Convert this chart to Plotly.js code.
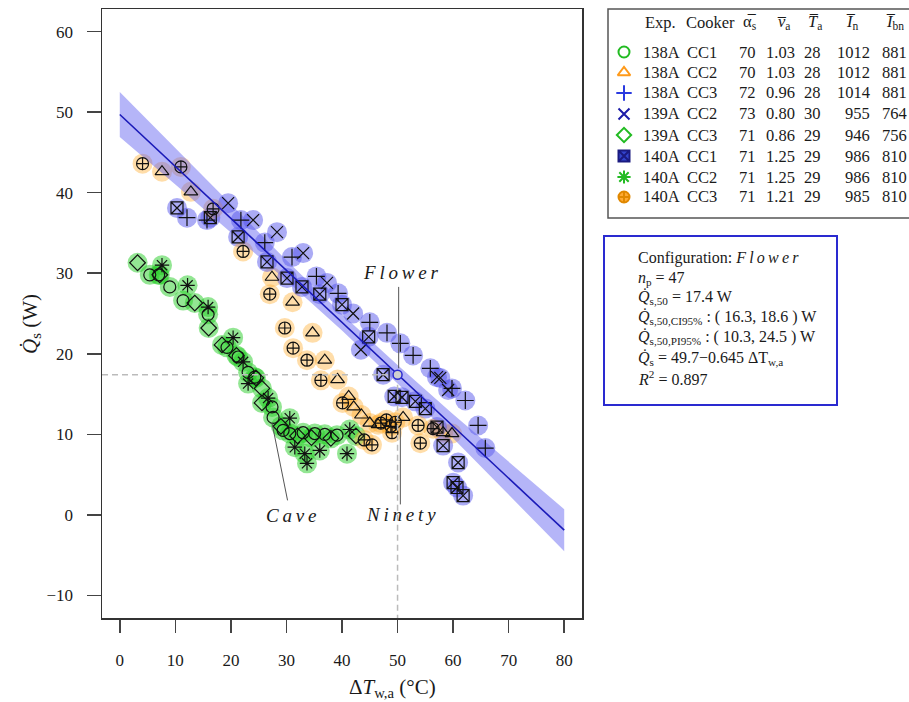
<!DOCTYPE html>
<html>
<head>
<meta charset="utf-8">
<script src="https://cdn.plot.ly/plotly-3.0.1.min.js"></script>
<style>html,body{margin:0;padding:0;background:#fff;}#chart{width:909px;height:702px;}</style>
</head>
<body>
<div id="chart"></div>
<script>
// ---------------- DATA ----------------
// 138A CC1 (green circle)
const cc1_138_x = [5.4, 7.0, 9.0, 11.4, 15.9, 19.3, 21.3, 23.1, 24.3, 27.4, 27.6, 29.4, 30.6, 33.0, 35.1, 36.9, 39.1];
const cc1_138_y = [29.8, 29.8, 28.3, 26.6, 24.9, 20.8, 19.6, 17.7, 17.1, 13.4, 12.1, 10.5, 10.1, 10.2, 10.1, 10.0, 9.9];
// 138A CC2 (orange triangle)
const cc2_138_x = [7.6, 12.8, 27.4, 31.1, 34.7, 36.9, 39.2, 41.2, 42.1, 43.5, 45.0, 46.5, 51.0, 58.2, 59.8];
const cc2_138_y = [42.6, 40.1, 29.5, 26.4, 22.6, 19.2, 16.8, 14.7, 13.4, 12.4, 11.4, 11.2, 12.1, 10.2, 10.1];
// 138A CC3 (blue plus)
const cc3_138_x = [12.1, 15.7, 21.8, 26.1, 31.0, 35.4, 39.3, 45.0, 48.1, 50.5, 52.8, 55.9, 59.8, 62.2, 64.5, 65.8];
const cc3_138_y = [36.9, 36.6, 36.6, 33.8, 32.0, 29.6, 27.5, 23.9, 22.6, 21.3, 19.8, 18.2, 15.7, 14.2, 11.1, 8.3];
// 139A CC2 (blue x)
const cc2_139_x = [19.5, 24.0, 28.3, 33.0, 37.3, 42.0, 43.4, 57.1, 59.1, 57.7];
const cc2_139_y = [38.7, 36.6, 35.1, 32.5, 28.8, 25.0, 20.5, 17.1, 15.5, 17.0];
// 139A CC3 (green diamond)
const cc3_139_x = [3.2, 7.2, 13.5, 16.0, 18.4, 21.0, 24.5, 25.6, 25.6, 29.0, 32.0, 34.5, 38.0, 42.5];
const cc3_139_y = [31.3, 29.8, 26.3, 23.2, 21.1, 19.8, 17.0, 15.7, 13.9, 11.0, 9.8, 9.6, 9.5, 9.8];
// 140A CC1 (blue square-x)
const cc1_140_x = [10.3, 16.3, 21.3, 26.5, 30.1, 32.8, 36.0, 40.0, 44.8, 47.4, 49.4, 50.8, 53.2, 55.0, 57.1, 58.2, 60.9, 60.0, 60.7, 61.8];
const cc1_140_y = [38.1, 36.9, 34.5, 31.4, 29.4, 28.3, 27.4, 26.1, 22.1, 17.4, 14.7, 14.6, 14.1, 13.2, 10.9, 8.6, 6.5, 4.0, 3.4, 2.4];
// 140A CC2 (green asterisk)
const cc2_140_x = [7.6, 12.2, 15.9, 20.4, 22.2, 23.1, 26.7, 30.6, 31.5, 33.3, 33.7, 36.0, 40.9, 41.4];
const cc2_140_y = [31.0, 28.5, 25.8, 22.0, 19.0, 16.3, 14.5, 12.0, 8.4, 7.6, 6.4, 8.0, 7.6, 10.6];
// 140A CC3 (orange circle-plus)
const cc3_140_x = [4.1, 11.0, 16.8, 22.2, 27.0, 29.7, 31.2, 33.7, 36.2, 40.1, 44.0, 45.4, 47.0, 48.0, 48.8, 49.6, 49.0, 53.7, 54.1, 56.4];
const cc3_140_y = [43.6, 43.2, 38.0, 32.7, 27.4, 23.2, 20.7, 19.2, 16.7, 13.9, 9.3, 8.7, 11.4, 11.8, 11.0, 11.5, 10.2, 11.1, 8.9, 10.7];

// regression line and confidence band (Flower)
const fitX = [0, 80];
const fitY = [49.7, -1.9];
const bandX = [0, 10, 20, 30, 40, 50, 60, 70, 80];
const bandHi = [52.5, 45.5, 38.5, 31.6, 24.9, 18.6, 12.5, 6.6, 0.7];
const bandLo = [46.9, 41.0, 35.1, 29.1, 22.9, 16.3, 9.5, 2.5, -4.5];
const predX = [50];
const predY = [17.4];

// leader lines for configuration labels
const flowerLineX = [50.2, 50.2], flowerLineY = [28.3, 18.2];
const ninetyLineX = [50.5, 50.5], ninetyLineY = [10.8, 1.3];
const caveLineX = [27.4, 30.2], caveLineY = [11.4, 1.8];

// axis ticks
const xTicks = [0, 10, 20, 30, 40, 50, 60, 70, 80];
const yTicks = [-10, 0, 10, 20, 30, 40, 50, 60];

// legend table
const legExp = ['138A', '138A', '138A', '139A', '139A', '140A', '140A', '140A'];
const legCooker = ['CC1', 'CC2', 'CC3', 'CC2', 'CC3', 'CC1', 'CC2', 'CC3'];
const legAlpha = ['70', '70', '72', '73', '71', '71', '71', '71'];
const legV = ['1.03', '1.03', '0.96', '0.80', '0.86', '1.25', '1.25', '1.21'];
const legTa = ['28', '28', '28', '30', '29', '29', '29', '29'];
const legIn = ['1012', '1012', '1014', '955', '946', '986', '986', '985'];
const legIbn = ['881', '881', '881', '764', '756', '810', '810', '810'];

// config box text
const configLines = [
  'Configuration: <i>F\u2009l\u2009o\u2009w\u2009e\u2009r</i>',
  '<i>n</i><sub>p</sub> = 47',
  '<i>Q\u0307</i><sub>s,50</sub> = 17.4 W',
  '<i>Q\u0307</i><sub>s,50,CI95%</sub> : ( 16.3, 18.6 ) W',
  '<i>Q\u0307</i><sub>s,50,PI95%</sub> : ( 10.3, 24.5 ) W',
  '<i>Q\u0307</i><sub>s</sub> = 49.7\u22120.645 \u0394T<sub>w,a</sub>',
  '<i>R</i><sup>2</sup> = 0.897'
];

// ---------------- STYLE ----------------
const W = 909, H = 702;
const L = 102, R = 582, T = 9, B = 618;
const FONT = 'Liberation Serif, Times New Roman, serif';
const TXT = '#1a1a1a';
const GREEN_HALO = 'rgba(40,205,40,0.5)';
const ORANGE_HALO = 'rgba(255,170,40,0.4)';
const BLUE_HALO = 'rgba(80,80,235,0.48)';

const series = [
  {x: cc1_138_x, y: cc1_138_y, sym: 'circle-open', halo: GREEN_HALO, legColor: '#22bb22', legLine: '#22bb22'},
  {x: cc2_138_x, y: cc2_138_y, sym: 'triangle-up-open', halo: ORANGE_HALO, legColor: '#ff9a1a', legLine: '#ff9a1a'},
  {x: cc3_138_x, y: cc3_138_y, sym: 'cross-thin-open', halo: BLUE_HALO, legColor: '#2a3ae0', legLine: '#2a3ae0'},
  {x: cc2_139_x, y: cc2_139_y, sym: 'x-thin-open', halo: BLUE_HALO, legColor: '#1c1ca8', legLine: '#1c1ca8'},
  {x: cc3_139_x, y: cc3_139_y, sym: 'diamond-open', halo: GREEN_HALO, legColor: '#22bb22', legLine: '#22bb22'},
  {x: cc1_140_x, y: cc1_140_y, sym: 'square-x-open', halo: BLUE_HALO, legColor: '#3344cc', legLine: '#1a1a80', legSym: 'square-x'},
  {x: cc2_140_x, y: cc2_140_y, sym: 'asterisk-open', halo: GREEN_HALO, legColor: '#22bb22', legLine: '#22bb22'},
  {x: cc3_140_x, y: cc3_140_y, sym: 'circle-cross-open', halo: ORANGE_HALO, legColor: '#ffaa33', legLine: '#e08800', legSym: 'circle-cross'}
];

const traces = [];
// halos
series.forEach(s => traces.push({
  x: s.x, y: s.y, type: 'scatter', mode: 'markers', hoverinfo: 'skip', showlegend: false,
  marker: {symbol: 'circle', size: 20, color: s.halo, line: {width: 0}}
}));
// confidence band
traces.push({
  x: bandX.concat(bandX.slice().reverse()),
  y: bandHi.concat(bandLo.slice().reverse()),
  type: 'scatter', mode: 'lines', fill: 'toself', fillcolor: 'rgba(90,90,240,0.45)',
  line: {width: 0}, hoverinfo: 'skip', showlegend: false
});
// glyphs
series.forEach(s => traces.push({
  x: s.x, y: s.y, type: 'scatter', mode: 'markers', hoverinfo: 'skip', showlegend: false,
  marker: {symbol: s.sym, size: 12, color: '#111', line: {width: 1.2, color: '#111'}}
}));
// fit line
traces.push({x: fitX, y: fitY, type: 'scatter', mode: 'lines', line: {color: '#1a1ab8', width: 1.6}, hoverinfo: 'skip', showlegend: false});
// dashed guide lines (to the left frame and down to the bottom frame)
const guideH_X = [-3.2, predX[0]], guideH_Y = [predY[0], predY[0]];
const guideV_X = [predX[0], predX[0]], guideV_Y = [predY[0], -12.8];
traces.push({x: guideH_X, y: guideH_Y, type: 'scatter', mode: 'lines', line: {color: '#bbbbbb', width: 1.5, dash: '6px,4px'}, hoverinfo: 'skip', showlegend: false});
traces.push({x: guideV_X, y: guideV_Y, type: 'scatter', mode: 'lines', line: {color: '#bbbbbb', width: 1.5, dash: '6px,4px'}, hoverinfo: 'skip', showlegend: false});
// leader lines
[[flowerLineX, flowerLineY], [ninetyLineX, ninetyLineY], [caveLineX, caveLineY]].forEach(p => traces.push({
  x: p[0], y: p[1], type: 'scatter', mode: 'lines', line: {color: '#555', width: 1}, hoverinfo: 'skip', showlegend: false
}));
// predicted point
traces.push({x: predX, y: predY, type: 'scatter', mode: 'markers', hoverinfo: 'skip', showlegend: false,
  marker: {symbol: 'circle', size: 9, color: '#cfcfcf', line: {color: '#2a2ad0', width: 1.5}}});

// legend symbols in a pixel-space overlay
const rowY = [52, 72.5, 93, 114, 135, 156, 177, 197];
traces.push({
  x: rowY.map(() => 624), y: rowY, xaxis: 'x2', yaxis: 'y2', type: 'scatter', mode: 'markers',
  hoverinfo: 'skip', showlegend: false,
  marker: {
    symbol: series.map(s => s.legSym || s.sym),
    color: series.map(s => s.legColor),
    size: 11,
    line: {color: series.map(s => s.legLine), width: 2}
  }
});

const ann = [];
function px(x){ return x / W; }
function py(y){ return 1 - y / H; }
function addText(text, x, y, xanchor, size, extra) {
  ann.push(Object.assign({
    text: text, xref: 'paper', yref: 'paper', x: px(x), y: py(y),
    xanchor: xanchor, yanchor: 'middle', showarrow: false,
    font: {family: FONT, size: size, color: TXT}
  }, extra || {}));
}
const LS = 16.5;
// headers
addText('Exp.', 643, 22, 'left', LS);
addText('Cooker', 684, 22, 'left', LS);
addText('\u03B1\u0305<sub>s</sub>', 750, 22, 'center', LS);
addText('<i>v\u0305</i><sub>a</sub>', 783, 22, 'center', LS);
addText('<i>T\u0305</i><sub>a</sub>', 815, 22, 'center', LS);
addText('<i>I\u0305</i><sub>n</sub>', 852, 22, 'center', LS);
addText('<i>I\u0305</i><sub>bn</sub>', 895, 22, 'center', LS);
rowY.forEach((y, i) => {
  addText(legExp[i], 641, y, 'left', LS);
  addText(legCooker[i], 685, y, 'left', LS);
  addText(legAlpha[i], 758, y, 'right', LS);
  addText(legV[i], 797, y, 'right', LS);
  addText(legTa[i], 823, y, 'right', LS);
  addText(legIn[i], 872, y, 'right', LS);
  addText(legIbn[i], 909, y, 'right', LS);
});
// config box lines
const cfgY = [258, 278, 297, 318, 338, 358, 378];
configLines.forEach((t, i) => addText(t, 636, cfgY[i], 'left', 16));
// config labels
addText('<i>F\u2009l\u2009o\u2009w\u2009e\u2009r</i>', 401, 273, 'center', 19);
addText('<i>N\u2009i\u2009n\u2009e\u2009t\u2009y</i>', 401, 514, 'center', 19);
addText('<i>C\u2009a\u2009v\u2009e</i>', 291, 515, 'center', 19);
// axis titles
addText('\u0394<i>T</i><sub>w,a</sub> (\u00B0C)', 392, 688, 'center', 21);
ann.push({text: '<i>Q\u0307</i><sub>s</sub> (W)', xref: 'paper', yref: 'paper', x: px(31), y: py(324),
  xanchor: 'center', yanchor: 'middle', showarrow: false, textangle: -90,
  font: {family: FONT, size: 21, color: TXT}});

const shapes = [
  {type: 'rect', xref: 'paper', yref: 'paper', x0: px(608), x1: px(915), y0: py(9), y1: py(218),
   line: {color: '#555', width: 1.5}, fillcolor: 'rgba(0,0,0,0)'},
  {type: 'rect', xref: 'paper', yref: 'paper', x0: px(604), x1: px(837), y0: py(236), y1: py(405),
   line: {color: '#2a2ad0', width: 2}, fillcolor: 'rgba(0,0,0,0)'}
];

const layout = {
  width: W, height: H,
  margin: {l: 0, r: 0, t: 0, b: 0},
  paper_bgcolor: '#fff', plot_bgcolor: 'rgba(0,0,0,0)',
  showlegend: false,
  font: {family: FONT, color: TXT},
  xaxis: {
    domain: [L / W, R / W], range: [-3.2, 83.2], tickvals: xTicks, ticktext: xTicks.map(String),
    ticks: 'outside', ticklen: 13, tickwidth: 1.5, tickcolor: '#444',
    showline: true, mirror: true, linecolor: '#333', linewidth: 1.5,
    showgrid: false, zeroline: false, ticklabelstandoff: 13,
    tickfont: {family: FONT, size: 17, color: TXT}, anchor: 'y'
  },
  yaxis: {
    domain: [1 - B / H, 1 - T / H], range: [-12.8, 62.8], tickvals: yTicks,
    ticktext: yTicks.map(v => v < 0 ? '\u2212' + Math.abs(v) : String(v)),
    ticks: 'outside', ticklen: 14, tickwidth: 1.5, tickcolor: '#444',
    showline: true, mirror: true, linecolor: '#333', linewidth: 1.5,
    showgrid: false, zeroline: false, ticklabelstandoff: 10,
    tickfont: {family: FONT, size: 17, color: TXT}, anchor: 'x'
  },
  xaxis2: {domain: [0, 1], range: [0, W], visible: false, anchor: 'y2', fixedrange: true},
  yaxis2: {domain: [0, 1], range: [H, 0], visible: false, anchor: 'x2', fixedrange: true},
  annotations: ann,
  shapes: shapes
};

Plotly.newPlot('chart', traces, layout, {displayModeBar: false, staticPlot: true});
</script>
</body>
</html>
